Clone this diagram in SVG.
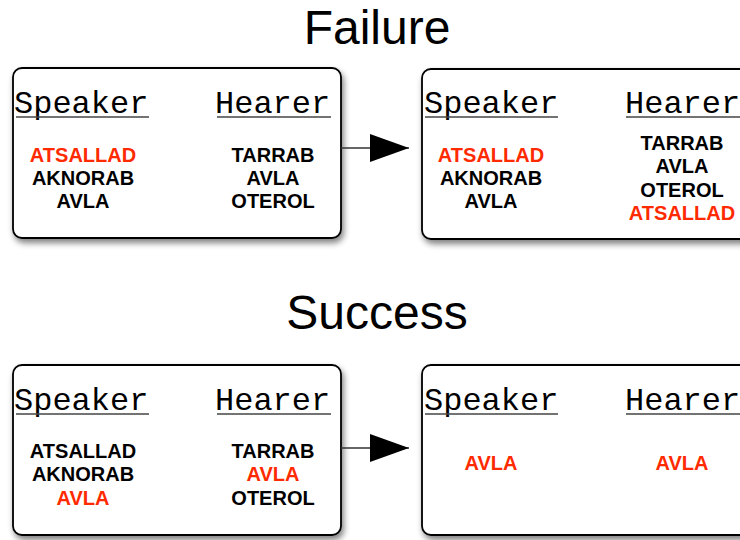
<svg xmlns="http://www.w3.org/2000/svg" width="740" height="540" viewBox="0 0 740 540">
<defs>
<filter id="sh" x="-10%" y="-10%" width="130%" height="140%">
<feGaussianBlur in="SourceAlpha" stdDeviation="3"/>
<feOffset dx="2" dy="4" result="b"/>
<feComponentTransfer><feFuncA type="linear" slope="0.5"/></feComponentTransfer>
<feMerge><feMergeNode/><feMergeNode in="SourceGraphic"/></feMerge>
</filter>
<marker id="ah" markerUnits="userSpaceOnUse" markerWidth="40" markerHeight="28" refX="39" refY="14" orient="auto">
<path d="M0,0 L39,14 L0,28 Z" fill="#000"/>
</marker>
</defs>
<style>
.box{fill:#fff;stroke:#000;stroke-width:1.8}
.title{font-family:"Liberation Sans",Arial,sans-serif;font-size:48px;fill:#000;text-anchor:middle}
.hd{font-family:"Liberation Mono","Courier New",monospace;font-size:32px;fill:#000}
.ul{stroke:#444;stroke-width:1.5}
.w{font-family:"Liberation Sans",Arial,sans-serif;font-size:20px;font-weight:bold;fill:#000;text-anchor:middle}
.r{fill:#ff2a00}
.conn{stroke:#333;stroke-width:1.5;fill:none}
</style>
<rect width="740" height="540" fill="#fff"/>
<text class="title" x="377" y="44">Failure</text>
<text class="title" x="377" y="329">Success</text>

<g id="failure-before">
<rect class="box" x="13" y="68" width="328" height="170" rx="9" filter="url(#sh)"/>
<text class="hd" x="14" y="113">Speaker</text>
<line class="ul" x1="16" y1="117" x2="149" y2="117"/>
<text class="hd" x="215" y="113">Hearer</text>
<line class="ul" x1="217" y1="117" x2="331" y2="117"/>
<text class="w r" x="83" y="162">ATSALLAD</text>
<text class="w" x="83" y="185">AKNORAB</text>
<text class="w" x="83" y="208">AVLA</text>
<text class="w" x="273" y="162">TARRAB</text>
<text class="w" x="273" y="185">AVLA</text>
<text class="w" x="273" y="208">OTEROL</text>
</g>

<g id="failure-after">
<rect class="box" x="422" y="69" width="340" height="170" rx="9" filter="url(#sh)"/>
<text class="hd" x="424" y="113">Speaker</text>
<line class="ul" x1="425" y1="117" x2="558" y2="117"/>
<text class="hd" x="625" y="113">Hearer</text>
<line class="ul" x1="626" y1="117" x2="742" y2="117"/>
<text class="w r" x="491" y="162">ATSALLAD</text>
<text class="w" x="491" y="185">AKNORAB</text>
<text class="w" x="491" y="208">AVLA</text>
<text class="w" x="682" y="150">TARRAB</text>
<text class="w" x="682" y="173">AVLA</text>
<text class="w" x="682" y="197">OTEROL</text>
<text class="w r" x="682" y="220">ATSALLAD</text>
</g>

<g id="success-before">
<rect class="box" x="13" y="365" width="328" height="170" rx="9" filter="url(#sh)"/>
<text class="hd" x="14" y="410">Speaker</text>
<line class="ul" x1="16" y1="414" x2="149" y2="414"/>
<text class="hd" x="215" y="410">Hearer</text>
<line class="ul" x1="217" y1="414" x2="331" y2="414"/>
<text class="w" x="83" y="458">ATSALLAD</text>
<text class="w" x="83" y="481">AKNORAB</text>
<text class="w r" x="83" y="505">AVLA</text>
<text class="w" x="273" y="458">TARRAB</text>
<text class="w r" x="273" y="481">AVLA</text>
<text class="w" x="273" y="505">OTEROL</text>
</g>

<g id="success-after">
<rect class="box" x="422" y="365" width="340" height="170" rx="9" filter="url(#sh)"/>
<text class="hd" x="424" y="410">Speaker</text>
<line class="ul" x1="425" y1="414" x2="558" y2="414"/>
<text class="hd" x="625" y="410">Hearer</text>
<line class="ul" x1="626" y1="414" x2="742" y2="414"/>
<text class="w r" x="491" y="470">AVLA</text>
<text class="w r" x="682" y="470">AVLA</text>
</g>

<g id="connectors">
<line class="conn" x1="341" y1="148" x2="409" y2="148" marker-end="url(#ah)"/>
<line class="conn" x1="341" y1="448" x2="409" y2="448" marker-end="url(#ah)"/>
</g>
</svg>
